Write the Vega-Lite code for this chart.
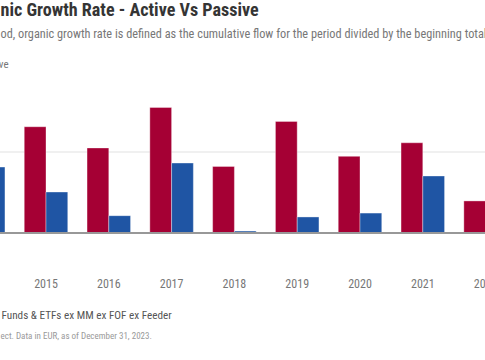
{
  "$schema": "https://vega.github.io/schema/vega-lite/v6.json",
  "autosize": {"type": "none"},
  "width": 485,
  "height": 162,
  "padding": {"top": 71, "left": 0, "right": 0, "bottom": 127},
  "background": "white",
  "data": {
    "values": [
      {"year": "2014", "type": "Passive", "value": 4.07},
      {"year": "2015", "type": "Active", "value": 6.56},
      {"year": "2015", "type": "Passive", "value": 2.53},
      {"year": "2016", "type": "Active", "value": 5.25},
      {"year": "2016", "type": "Passive", "value": 1.07},
      {"year": "2017", "type": "Active", "value": 7.75},
      {"year": "2017", "type": "Passive", "value": 4.32},
      {"year": "2018", "type": "Active", "value": 4.11},
      {"year": "2018", "type": "Passive", "value": 0.12},
      {"year": "2019", "type": "Active", "value": 6.89},
      {"year": "2019", "type": "Passive", "value": 0.99},
      {"year": "2020", "type": "Active", "value": 4.73},
      {"year": "2020", "type": "Passive", "value": 1.23},
      {"year": "2021", "type": "Active", "value": 5.57},
      {"year": "2021", "type": "Passive", "value": 3.52},
      {"year": "2022", "type": "Active", "value": 1.98}
    ]
  },
  "layer": [
    {
      "mark": {"type": "rule", "color": "#f0f0f0", "strokeWidth": 2},
      "encoding": {
        "y": {
          "datum": 5,
          "type": "quantitative",
          "scale": {"domain": [0, 10], "nice": false},
          "axis": {
            "orient": "left",
            "labels": false,
            "ticks": false,
            "domain": false,
            "grid": false,
            "values": [],
            "title": "nic Growth Rate - Active Vs Passive",
            "titleAngle": 0,
            "titleFont": "Roboto Condensed",
            "titleFontSize": 18.1,
            "titleFontWeight": "bold",
            "titleColor": "#353535",
            "titleAlign": "left",
            "titleBaseline": "alphabetic",
            "titleX": 0,
            "titleY": -55.5
          }
        }
      }
    },
    {
      "mark": {"type": "bar", "stroke": "white", "strokeWidth": 0.6, "strokeOpacity": 0.6},
      "encoding": {
        "x": {
          "field": "year",
          "type": "ordinal",
          "scale": {
            "domain": ["2014", "2015", "2016", "2017", "2018", "2019", "2020", "2021", "2022"],
            "range": [-48.2, 517],
            "paddingInner": 0.307,
            "paddingOuter": 0.1535
          },
          "axis": {
            "title": "Funds & ETFs ex MM ex FOF ex Feeder",
            "titleFont": "Roboto Condensed",
            "titleFontSize": 11.2,
            "titleFontWeight": "normal",
            "titleColor": "#555555",
            "titleAnchor": "start",
            "titleAlign": "left",
            "titleBaseline": "middle",
            "titleX": 1,
            "titleY": 82,
            "labelAngle": 0,
            "labelFont": "Roboto Condensed",
            "labelFontSize": 12,
            "labelColor": "#777777",
            "labelPadding": 45,
            "ticks": false,
            "domain": false,
            "grid": false
          }
        },
        "xOffset": {"field": "type", "type": "nominal", "scale": {"domain": ["Active", "Passive"], "paddingInner": 0}},
        "y": {
          "field": "value",
          "type": "quantitative",
          "scale": {"domain": [0, 10], "nice": false},
          "axis": {
            "orient": "left",
            "values": [],
            "labels": false,
            "ticks": false,
            "domain": false,
            "grid": false,
            "title": "od, organic growth rate is defined as the cumulative flow for the period divided by the beginning total net assets.",
            "titleAngle": 0,
            "titleFont": "Roboto Condensed",
            "titleFontSize": 12.3,
            "titleFontWeight": "normal",
            "titleColor": "#777777",
            "titleAlign": "left",
            "titleBaseline": "middle",
            "titleX": 0,
            "titleY": -37.5
          }
        },
        "color": {
          "field": "type",
          "type": "nominal",
          "scale": {"domain": ["Active", "Passive"], "range": ["#a50034", "#1f55a4"]},
          "legend": {
            "title": null,
            "orient": "none",
            "direction": "horizontal",
            "legendX": -96,
            "legendY": -12,
            "labelFont": "Roboto Condensed",
            "labelFontSize": 11,
            "labelColor": "#777777",
            "symbolType": "square"
          }
        }
      }
    },
    {
      "mark": {"type": "rule", "color": "#999999", "strokeWidth": 1.5},
      "encoding": {
        "y": {
          "datum": 0,
          "type": "quantitative",
          "scale": {"domain": [0, 10], "nice": false},
          "axis": {
            "orient": "right",
            "labels": false,
            "ticks": false,
            "domain": false,
            "grid": false,
            "values": [],
            "title": "ect. Data in EUR, as of December 31, 2023.",
            "titleAngle": 0,
            "titleFont": "Roboto Condensed",
            "titleFontSize": 9,
            "titleFontWeight": "normal",
            "titleColor": "#999999",
            "titleAlign": "left",
            "titleBaseline": "middle",
            "titleX": -485,
            "titleY": 264
          }
        }
      }
    }
  ],
  "resolve": {"scale": {"y": "independent"}, "axis": {"y": "independent"}},
  "config": {"view": {"stroke": null}}
}
